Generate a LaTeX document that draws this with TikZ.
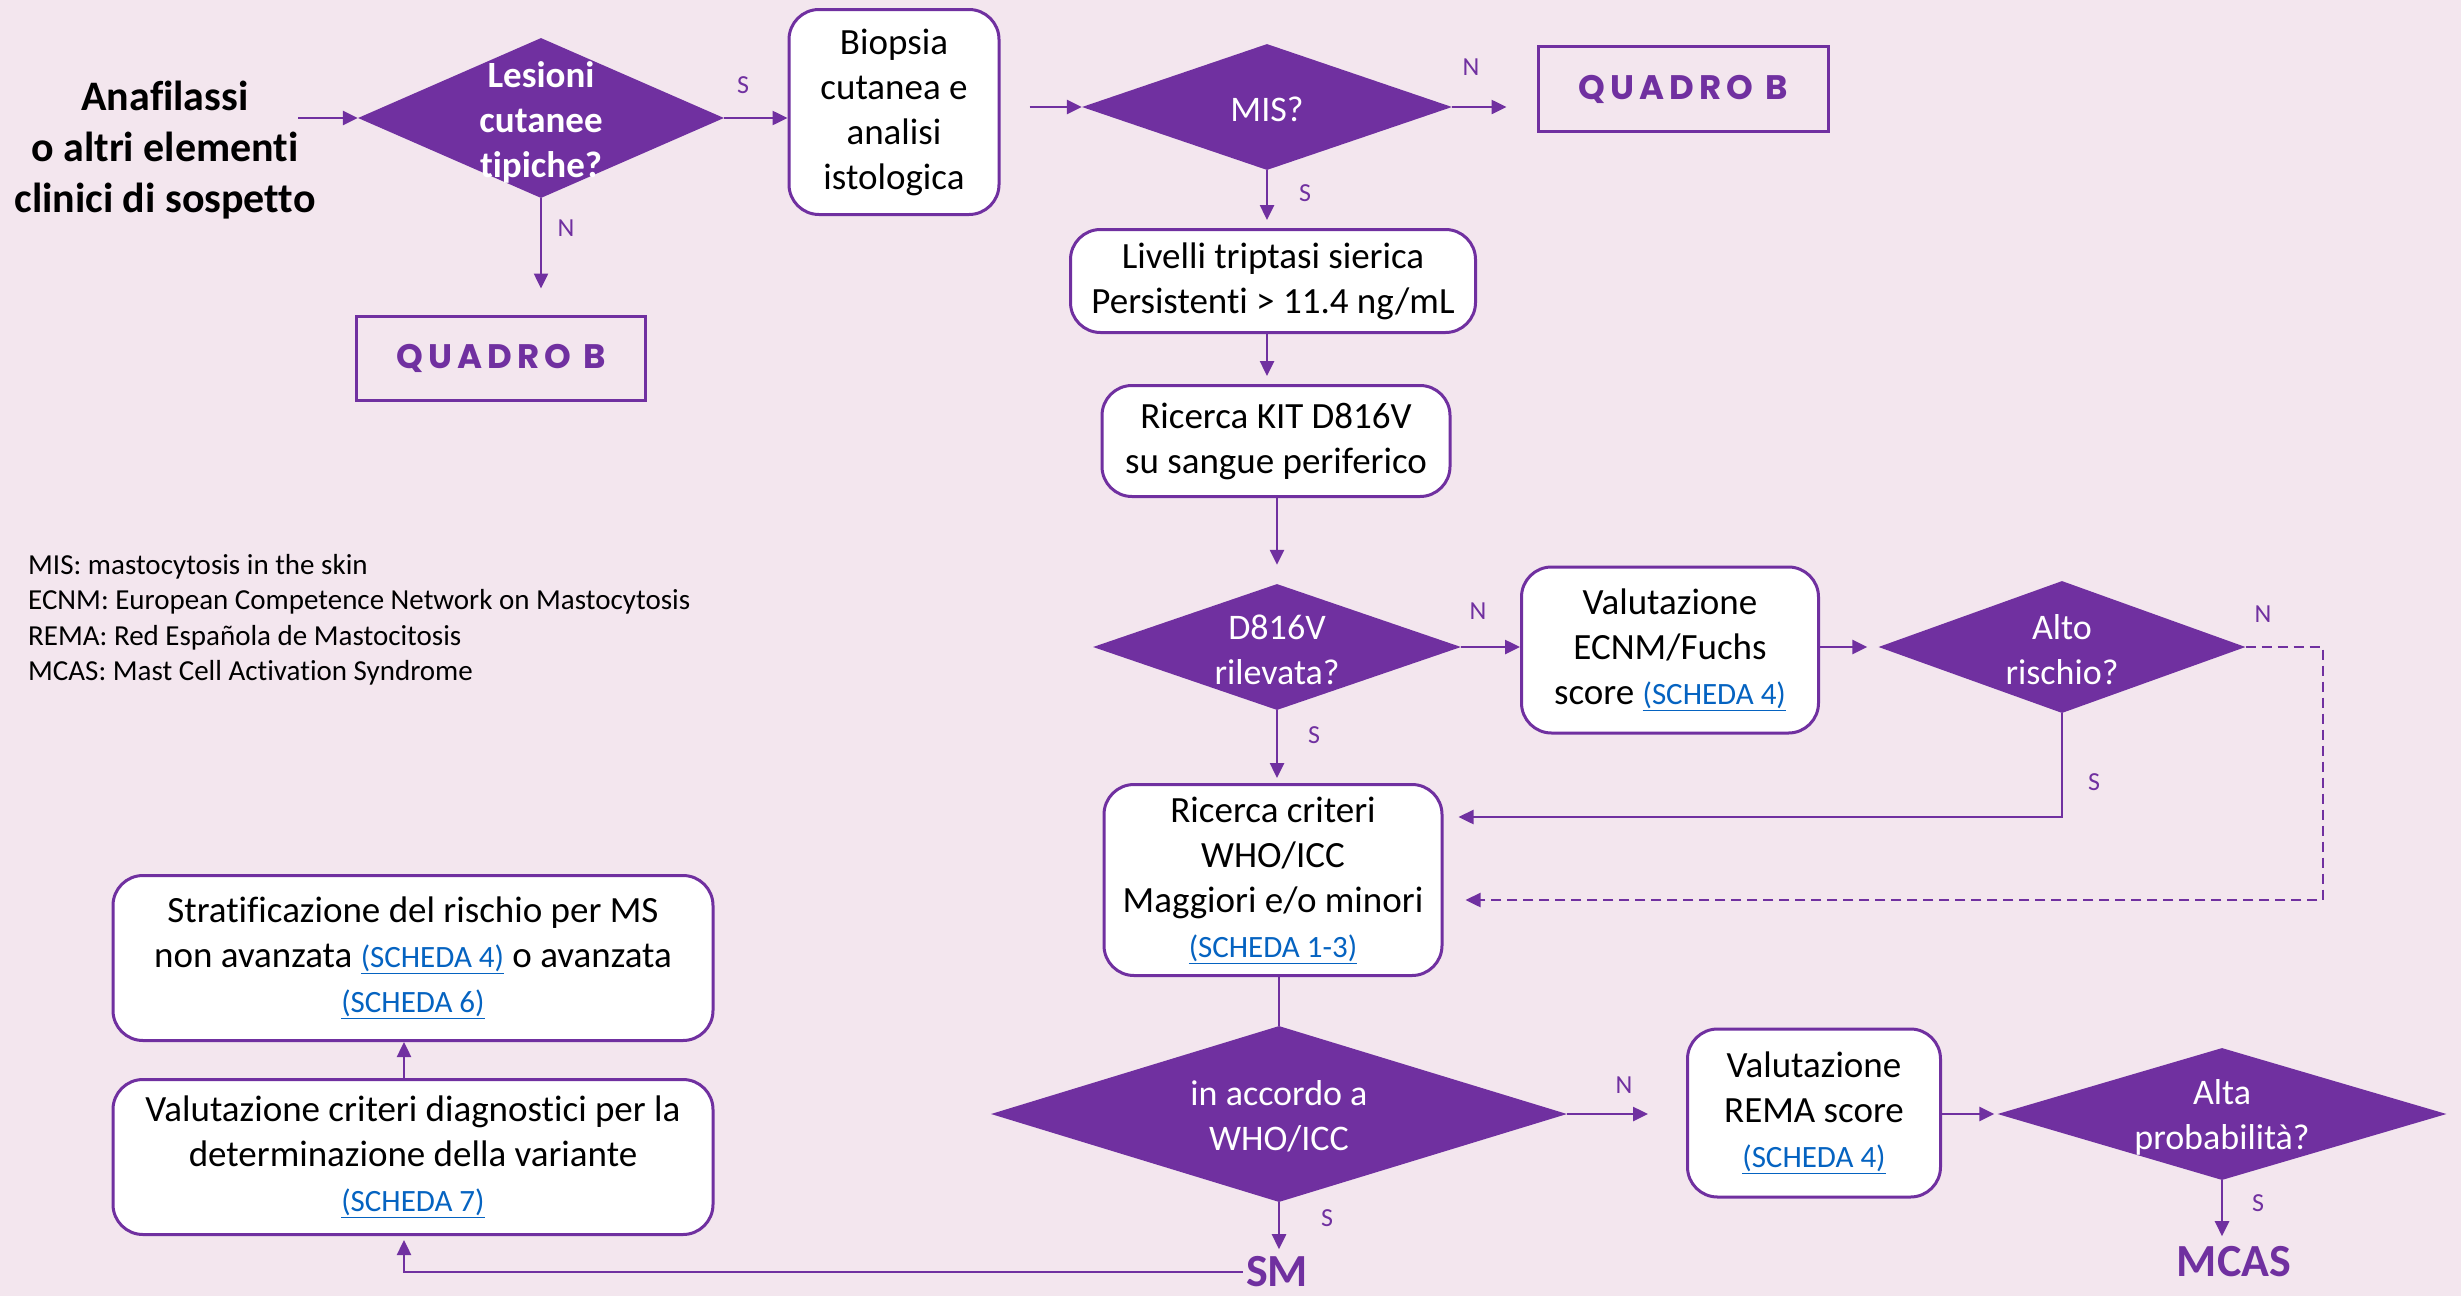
\documentclass[tikz,border=0pt]{standalone}
\usepackage{fontspec}
\setmainfont{Carlito}[Ligatures=NoCommon]
\newfontfamily\qfont{Poppins}[LetterSpace=15]
\usetikzlibrary{shapes.geometric,arrows.meta}
\definecolor{bgc}{HTML}{F3E6EE}
\definecolor{purp}{HTML}{7030A0}
\definecolor{linkc}{HTML}{0563C1}
\newcommand\lnk[1]{{\fontsize{31}{45}\selectfont\textcolor{linkc}{\underline{#1}}}}
\begin{document}
\begin{tikzpicture}[x=1pt,y=-1pt,
  box/.style={draw=purp, line width=3pt, fill=white, rounded corners=30pt, align=center, inner sep=0pt, font=\fontsize{37}{45}\selectfont},
  qbox/.style={draw=purp, line width=3pt, inner sep=0pt, font=\qfont\bfseries\fontsize{34}{40}\selectfont, text=purp},
  dia/.style={diamond, fill=purp, inner sep=0pt},
  dtxt/.style={text=white, align=center, font=\fontsize{36}{45}\selectfont},
  lab/.style={text=purp, font=\fontsize{26}{30}\selectfont},
  arr/.style={draw=purp, line width=2.5pt, -{Triangle[length=15pt,width=14pt]}},
  ln/.style={draw=purp, line width=2.5pt},
  big/.style={text=purp, font=\bfseries\fontsize{46}{50}\selectfont}]
\fill[bgc] (0,0) rectangle (2461,1296);
\useasboundingbox (0,0) rectangle (2461,1296);

% nodes
\node[font=\bfseries\fontsize{42}{51}\selectfont, align=center] (ana) at (165,150) {Anafilassi\\o altri elementi\\clinici di sospetto};
\node[dia, minimum width=366pt, minimum height=160pt] (d1) at (541,118) {};
\node[dtxt, font=\bfseries\fontsize{37}{45}\selectfont] (t1) at (541,122) {Lesioni\\cutanee\\tipiche?};
\node[box, minimum width=210pt, minimum height=205pt] (bio) at (894,112) {Biopsia\\cutanea e\\analisi\\istologica};
\node[qbox, minimum width=289pt, minimum height=84pt] (qb1) at (501,358) {QUADRO B};
\node[dia, minimum width=370pt, minimum height=126pt] (mis) at (1267,107) {};
\node[dtxt] (tmis) at (1267,109) {MIS?};
\node[qbox, minimum width=290pt, minimum height=85pt] (qb2) at (1683,89) {QUADRO B};
\node[box, minimum width=405pt, minimum height=103pt] (liv) at (1273,281) {Livelli triptasi sierica\\Persistenti > 11.4 ng/mL};
\node[box, minimum width=348pt, minimum height=111pt] (kit) at (1276,441) {Ricerca KIT D816V\\su sangue periferico};
\node[dia, minimum width=368pt, minimum height=126pt] (d2) at (1277,647) {};
\node[dtxt] (t2) at (1277,650) {D816V\\rilevata?};
\node[box, minimum width=297pt, minimum height=166pt] (ecnm) at (1670,650) {Valutazione\\ECNM/Fuchs\\score \lnk{(SCHEDA 4)}};
\node[dia, minimum width=367pt, minimum height=132pt] (d3) at (2062,647) {};
\node[dtxt] (t3) at (2062,650) {Alto\\rischio?};
\node[box, minimum width=338pt, minimum height=191pt] (ric) at (1273,880) {Ricerca criteri\\WHO/ICC\\Maggiori e/o minori\\\lnk{(SCHEDA 1-3)}};
\node[dia, minimum width=576pt, minimum height=176pt] (d4) at (1279,1114) {};
\node[dtxt] (t4) at (1279,1116) {in accordo a\\WHO/ICC};
\node[box, minimum width=253pt, minimum height=168pt] (rema) at (1814,1113) {Valutazione\\REMA score\\\lnk{(SCHEDA 4)}};
\node[dia, minimum width=449pt, minimum height=132pt] (d5) at (2222,1114) {};
\node[dtxt] (t5) at (2222,1117) {Alta\\probabilità?};
\node[big] (mcas) at (2234,1262) {MCAS};
\node[big] (sm) at (1277,1272) {SM};
\node[box, minimum width=600pt, minimum height=155pt] (val) at (413,1157) {Valutazione criteri diagnostici per la\\determinazione della variante\\\lnk{(SCHEDA 7)}};
\node[box, minimum width=600pt, minimum height=165pt] (strat) at (413,958) {Stratificazione del rischio per MS\\non avanzata \lnk{(SCHEDA 4)} o avanzata\\\lnk{(SCHEDA 6)}};
\node[anchor=west, align=left, inner sep=0pt, font=\fontsize{29}{35.5}\selectfont] (leg) at (28,620) {MIS: mastocytosis in the skin\\ECNM: European Competence Network on Mastocytosis\\REMA: Red Española de Mastocitosis\\MCAS: Mast Cell Activation Syndrome};

% labels
\node[lab] (l1) at (743,85) {S};
\node[lab] (l2) at (566,228) {N};
\node[lab] (l3) at (1471,67) {N};
\node[lab] (l4) at (1305,193) {S};
\node[lab] (l5) at (1478,611) {N};
\node[lab] (l6) at (2263,614) {N};
\node[lab] (l7) at (2094,782) {S};
\node[lab] (l8) at (1314,735) {S};
\node[lab] (l9) at (1624,1085) {N};
\node[lab] (l10) at (2258,1203) {S};
\node[lab] (l11) at (1327,1218) {S};

% connectors
\coordinate (a0) at (298,118);
\draw[arr] (a0) -- (d1.west);
\draw[arr] (d1.east) -- (d1.east -| bio.west);
\draw[arr, shorten >=26pt] (d1.south) -- (d1.south |- qb1.north);
\draw[arr, shorten <=29pt] (bio.east |- mis.west) -- (mis.west);
\draw[arr, shorten >=30pt] (mis.east) -- (mis.east -| qb2.west);
\draw[arr, shorten >=8pt] (mis.south) -- (mis.south |- liv.north);
\draw[arr, shorten >=8pt] (liv.south -| mis.south) -- (mis.south |- kit.north);
\draw[arr, shorten >=19pt] (kit.south -| d2.north) -- (d2.north);
\draw[arr] (d2.east) -- (d2.east -| ecnm.west);
\draw[arr, shorten >=11pt] (ecnm.east |- d3.west) -- (d3.west);
\draw[arr, shorten >=5pt] (d2.south) -- (d2.south |- ric.north);
\coordinate (s3) at (2062,817);
\draw[arr, shorten >=15pt] (d3.south) -- (s3) -- (s3 -| ric.east);
\coordinate (n3) at (2323,647);
\coordinate (n3b) at (2323,900);
\draw[arr, dash pattern=on 10pt off 6pt, shorten >=22pt] (d3.east) -- (n3) -- (n3b) -- (n3b -| ric.east);
\draw[ln] (ric.south -| d4.north) -- (d4.north);
\draw[arr, shorten >=38pt] (d4.east) -- (d4.east -| rema.west);
\draw[arr, shorten >=3pt] (rema.east |- d5.west) -- (d5.west);
\draw[arr, shorten >=7pt] (d5.south) -- (d5.south |- mcas.north);
\draw[arr, shorten >=4pt] (d4.south) -- (d4.south |- sm.north);
\coordinate (c404) at (404,1272);
\draw[arr, shorten >=4pt] (sm.west) -- (c404) -- (c404 |- val.south);
\draw[arr] ([xshift=-9pt]val.north) -- ([xshift=-9pt]strat.south);
\end{tikzpicture}
\end{document}
